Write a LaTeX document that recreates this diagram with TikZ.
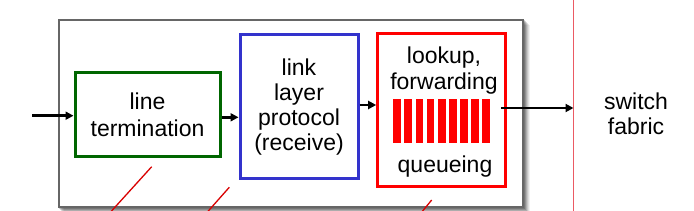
\documentclass[tikz,border=0pt]{standalone}
\usepackage{fontspec}
\setmainfont{Liberation Sans}
\usetikzlibrary{arrows.meta}
\definecolor{grn}{RGB}{0,102,0}
\definecolor{blu}{RGB}{51,51,204}
\definecolor{rd}{RGB}{255,0,0}
\definecolor{fabred}{RGB}{235,90,100}
\definecolor{frame}{RGB}{102,102,102}
\begin{document}
\begin{tikzpicture}[x=1pt,y=-1pt,
  box/.style={draw,line width=3pt,inner sep=0pt,align=center,font=\fontsize{23}{25}\selectfont},
  lbl/.style={inner sep=0pt,align=center,font=\fontsize{23}{26}\selectfont},
  arr/.style={line width=2.5pt,-{Triangle[length=8pt,width=8pt]}},
  slash/.style={draw=rd!85!black,line width=1.3pt}]
\useasboundingbox (0,0) rectangle (694,211);
\begin{scope}
\clip (0,0) rectangle (694,211);
% soft shadow and frame
\foreach \d/\o in {7/0.06,6/0.08,5/0.10,4/0.13,3/0.16,2/0.18}
  \fill[black,opacity=\o] (58.7+\d-2,20+\d-2) rectangle (523+\d,207+\d);
\node[draw=frame,fill=white,line width=2pt,minimum width=464pt,minimum height=187pt,inner sep=0pt] (frm) at (290.8,113.5) {};
% boxes
\node[box,draw=grn,minimum width=145pt,minimum height=84pt,font=\fontsize{23}{27.5}\selectfont] (lt) at (147.5,115) {line\\termination};
\node[box,draw=blu,minimum width=118pt,minimum height=144pt] (llp) at (299,107) {link\\layer\\protocol\\(receive)};
\node[box,draw=rd,minimum width=128pt,minimum height=153pt] (lf) at (441.7,110.5) {};
\node[lbl,anchor=north,font=\fontsize{23}{26.6}\selectfont] (lk) at (444,46.2) {lookup,\\forwarding};
\node[lbl,anchor=base] (qu) at (445,172.5) {queueing};
\foreach \i in {0,...,8}
  \fill[rd] (393.3+\i*11.125,99.3) rectangle ++(7.7,43.4);
% fabric
\coordinate (fabtop) at (573.5,-2);
\coordinate (fabbot) at (573.5,213);
\fill[fabred] (572.6,-2) rectangle (574.4,213);
\node[lbl,font=\fontsize{23}{24.5}\selectfont] (sf) at (636,114) {switch\\fabric};
% arrows
\coordinate (in) at (32,115.7);
\draw[arr] (in) -- (lt.west |- in);
\draw[arr] ([yshift=-2.3pt]lt.east) -- ([yshift=-2.3pt]lt.east -| llp.west);
\draw[arr] ([yshift=2pt]llp.east) -- ([yshift=2pt]llp.east -| lf.west);
\draw[arr] ([xshift=-6pt,yshift=2.5pt]lf.east) -- ([yshift=2.5pt]lf.east -| fabtop);
% red slashes
\coordinate (s1a) at (151.7,166.7); \coordinate (s1b) at (107,216);
\coordinate (s2a) at (229.3,187.3); \coordinate (s2b) at (204.3,215.5);
\coordinate (s3a) at (431.7,200); \coordinate (s3b) at (418.5,216);
\draw[slash] (s1a) -- (s1b);
\draw[slash] (s2a) -- (s2b);
\draw[slash] (s3a) -- (s3b);
\end{scope}
\end{tikzpicture}
\end{document}
